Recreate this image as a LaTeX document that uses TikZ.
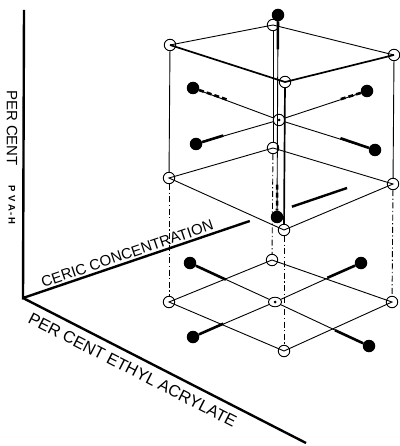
\documentclass[tikz,border=0pt]{standalone}
\usepackage{fontspec}
\newfontfamily\letterfont{Liberation Sans}
\usetikzlibrary{calc,shapes.geometric}

\tikzset{
  vertex/.style={circle,draw,line width=0.9pt,minimum size=11.5pt,inner sep=0pt},
  centre/.style={vertex,path picture={\fill (path picture bounding box.center) circle (1.5pt);}},
  lowcentre/.style={ellipse,draw,line width=0.9pt,minimum width=13pt,minimum height=9.5pt,inner sep=0pt,
    path picture={\fill (path picture bounding box.center) circle (1.5pt);}},
  starpt/.style={circle,fill=black,minimum size=12.5pt,inner sep=0pt},
  thinline/.style={line width=0.9pt},
  frontedge/.style={line width=1.7pt},
  heavy/.style={line width=2.6pt},
  hidden/.style={line width=2.6pt,dash pattern=on 5pt off 3pt},
  drop/.style={line width=0.9pt,dash pattern=on 6pt off 2.5pt on 1.2pt off 2.5pt},
  axisline/.style={line width=2.4pt},
  lettering/.style={font=\letterfont\fontsize{15}{17}\selectfont,inner sep=0pt}
}

\begin{document}
\begin{tikzpicture}[x=1pt,y=-1pt]
    \useasboundingbox (0,0) rectangle (399,446);

    % assi
    \coordinate (O) at (23,298);
    \coordinate (Ytop) at (24,10);
    \coordinate (Cend) at (347,188);
    \coordinate (Eend) at (306,443);
    \draw[axisline] (Ytop) -- (O) -- ($(O)!0.70!(Cend)$);
    \draw[axisline] ($(O)!0.83!(Cend)$) -- (Cend);
    \draw[axisline] (O) -- (Eend);

    \path (O) -- (Cend) node[lettering,pos=0.33,sloped,above=3pt] (ceric) {CERIC CONCENTRATION};
    \path (O) -- (Eend) node[lettering,font=\letterfont\fontsize{16.5}{18}\selectfont,pos=0.41,sloped,below=8pt] (ethyl) {PER CENT ETHYL ACRYLATE};
    \node[lettering,rotate=-90] (percent) at (12,128) {PER CENT};
    \node[font=\letterfont\bfseries\fontsize{9.5}{11}\selectfont,inner sep=0pt,rotate=-90] (pva) at (12,205) {P\kern3ptV\kern3ptA\kern1.5pt-\kern1.5ptH};

    % cubo: faccia superiore
    \node[vertex] (TL) at (170,45) {};
    \node[vertex] (TB) at (273,25) {};
    \node[vertex] (TR) at (394,55) {};
    \node[vertex] (TF) at (285,82) {};

    % cubo: faccia inferiore
    \node[vertex] (ML) at (169,178) {};
    \node[vertex] (MB) at (273,148) {};
    \node[vertex] (MR) at (393,184) {};
    \node[vertex] (MF) at (284,230) {};

    % piano inferiore
    \node[vertex] (LL) at (169,302) {};
    \node[vertex] (LB) at (272,260) {};
    \node[vertex] (LR) at (392,302) {};
    \node[vertex] (LF) at (284,351) {};

    % punti centrali
    \node[centre] (C1) at (279,120) {};
    \node[lowcentre] (C2) at (275,302) {};

    % punti stella
    \node[starpt] (A1) at (278,15) {};
    \node[starpt] (A2) at (277,217) {};
    \node[starpt] (S1) at (193,88) {};
    \node[starpt] (S2) at (367,91) {};
    \node[starpt] (S3) at (196,144) {};
    \node[starpt] (S4) at (375,150) {};
    \node[starpt] (P1) at (190,263) {};
    \node[starpt] (P2) at (361,263) {};
    \node[starpt] (P3) at (193,337) {};
    \node[starpt] (P4) at (369,346) {};

    % spigoli del cubo
    \draw[thinline] (TL.center) -- (TB.center) -- (TR.center);
    \draw[frontedge] (TL.center) -- (TF.center) -- (TR.center);
    \draw[thinline] (ML.center) -- (MB.center) -- (MR.center) -- (MF.center) -- cycle;
    \draw[thinline] (TL) -- (ML);
    \draw[thinline] (TB) -- (MB);
    \draw[thinline] (TR) -- (MR);
    \draw[frontedge] (TF) -- (MF);

    % verticali verso il piano inferiore
    \draw[drop] (ML) -- (LL);
    \draw[drop] (MB) -- (LB);
    \draw[drop] (MR) -- (LR);
    \draw[drop] (MF) -- (LF);
    \draw[thinline] (LL.center) -- (LB.center) -- (LR.center) -- (LF.center) -- cycle;

    % bracci nel cubo
    \draw[thinline] (A1) -- (A2);
    \draw[heavy] (A1) -- ($(A1)!0.17!(A2)$);
    \draw[hidden] ($(A2)!0.16!(A1)$) -- (A2);
    \draw[thinline] (S1) -- (C1) -- (S4);
    \draw[thinline] (S3) -- (C1) -- (S2);
    \draw[hidden] (S1) -- ($(S1)!0.19!(S4)$);
    \draw[heavy] (S4) -- ($(S4)!0.19!(S1)$);
    \draw[heavy] (S3) -- ($(S3)!0.16!(S2)$);
    \draw[hidden] (S2) -- ($(S2)!0.16!(S3)$);

    % bracci nel piano inferiore
    \draw[thinline] (P1) -- (C2) -- (P4);
    \draw[thinline] (P3) -- (C2) -- (P2);
    \draw[heavy] (P1) -- ($(P1)!0.2!(P4)$);
    \draw[heavy] (P4) -- ($(P4)!0.19!(P1)$);
    \draw[heavy] (P3) -- ($(P3)!0.18!(P2)$);
    \draw[heavy] (P2) -- ($(P2)!0.2!(P3)$);
\end{tikzpicture}
\end{document}
